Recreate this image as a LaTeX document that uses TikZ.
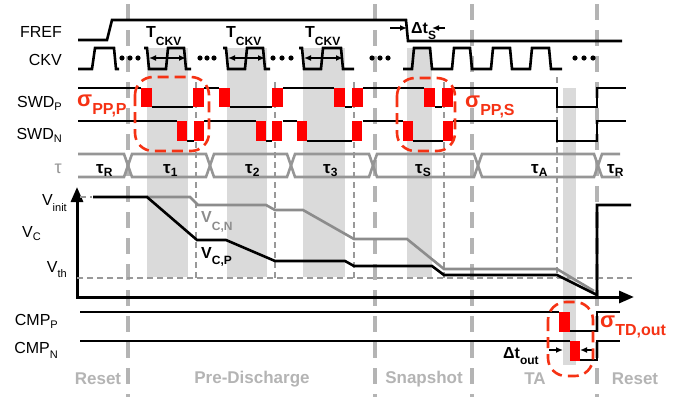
\documentclass[tikz,border=0pt]{standalone}
\usepackage{fontspec}
\setmainfont{Liberation Sans}
\usetikzlibrary{arrows.meta,calc}

\definecolor{redbar}{RGB}{255,0,0}
\definecolor{redgrp}{RGB}{245,50,20}
\definecolor{phasegray}{RGB}{180,180,180}
\definecolor{shadegray}{RGB}{218,218,218}
\definecolor{busgray}{RGB}{150,150,150}
\definecolor{vcngray}{RGB}{140,140,140}

\newcommand{\low}[2]{\raisebox{-#1}{\fontsize{11}{11}\selectfont #2}}
\newcommand{\lowb}[2]{\raisebox{-#1}{\fontsize{12}{12}\selectfont #2}}
\newcommand{\sigl}[1]{{\fontsize{22}{22}\selectfont σ}\raisebox{-8pt}{\fontsize{16}{16}\selectfont #1}}

\tikzset{
  wave/.style={line width=2.6pt},
  phaseline/.style={phasegray, line width=4pt, dash pattern=on 16pt off 10pt},
  guide/.style={phasegray!85!black, line width=1.5pt, dash pattern=on 6pt off 4pt},
  bus/.style={busgray, line width=2.6pt},
  bar/.style={fill=redbar},
  grp/.style={redgrp, line width=2.6pt, dash pattern=on 11pt off 6pt, rounded corners=18pt},
  shd/.style={fill=shadegray},
  lbl/.style={inner sep=0pt, font=\fontsize{16}{16}\selectfont},
  blbl/.style={inner sep=0pt, font=\fontsize{16}{16}\selectfont\bfseries},
  plbl/.style={inner sep=0pt, text=phasegray, font=\fontsize{17}{17}\selectfont\bfseries},
  taulbl/.style={inner sep=0pt, font=\fontsize{17}{17}\selectfont\bfseries},
  siglbl/.style={inner sep=0pt, text=redgrp, font=\bfseries},
  tip/.style={line width=1.4pt, -{Latex[length=7pt,width=6pt]}},
  axis/.style={line width=3pt, {Triangle[length=15pt,width=12pt]}-{Triangle[length=15pt,width=12pt]}},
}

\begin{document}
\begin{tikzpicture}[x=1pt,y=-1pt]
\useasboundingbox (0,0) rectangle (694,397);

\foreach \a/\b in {147/188,227/267,303/345,407/432}
  \fill[shd] (\a,48) rectangle (\b,277);
\fill[shd] (563,88) rectangle (576,365);

\foreach \x in {128,375,472,597}
  \draw[phaseline] (\x,4) -- (\x,397);
\foreach \x in {196,275,354,444}
  \draw[guide] (\x,82) -- (\x,278);
\draw[guide] (557,77) -- (557,278);

% clocks
\draw[wave] (78,40) -- (107,40) -- (112,20) -- (406,20) -- (408,41) -- (622,41);
\draw[wave] (78,69) -- (92,69) -- (95,48) -- (114,48) -- (116,69) -- (119,69);
\draw[wave] (144,48) -- (147,48) -- (149,69) -- (166,69) -- (168,48) -- (184,48) -- (186,69) -- (191,69);
\draw[wave] (223,48) -- (226,48) -- (228,69) -- (245,69) -- (247,48) -- (263,48) -- (265,69) -- (270,69);
\draw[wave] (299,48) -- (302,48) -- (304,69) -- (321,69) -- (323,48) -- (341,48) -- (343,69) -- (354,69);
\draw[wave] (403,69) -- (412,69) -- (414,48) -- (430,48) -- (432,69) -- (452,69) -- (454,48) -- (470,48) -- (472,69)
  -- (491,69) -- (493,48) -- (510,48) -- (512,69) -- (530,69) -- (532,48) -- (549,48) -- (551,69) -- (562,69);
\foreach \x in {122,130,138,200,207,214,273,282,291,372,380,388,575,584,593}
  \fill (\x,58) circle (2.6pt);

\foreach \a/\b in {149/186,228/265,304/343}
  \draw[line width=1.4pt, {Latex[length=7pt,width=6pt]}-{Latex[length=7pt,width=6pt]}] (\a,58) -- (\b,58);
\node[blbl, anchor=base west] (tckv1) at (146,37) {T\lowb{8pt}{CKV}};
\node[blbl, anchor=base west] (tckv2) at (226,37) {T\lowb{8pt}{CKV}};
\node[blbl, anchor=base west] (tckv3) at (305,37) {T\lowb{8pt}{CKV}};

\draw[tip] (390,28) -- (407,28);
\draw[tip] (445,28) -- (432,28);
\node[blbl, anchor=base west] (dts) at (411,33) {Δt\lowb{6pt}{S}};

% switch drivers
\draw[wave] (78,88) -- (141,88) (152,107) -- (193,107) (204,88) -- (219,88) (230,107) -- (272,107)
  (283,88) -- (334,88) (345,107) -- (352,107) (363,88) -- (424,88) (435,107) -- (442,107)
  (452,88) -- (557,88) -- (557,107) -- (597,107) -- (597,88) -- (626,88);
\draw[wave] (78,121) -- (177,121) (187,141) -- (194,141) (204,121) -- (256,121) (266,141) -- (272,141)
  (283,121) -- (297,121) (307,141) -- (352,141) (363,121) -- (403,121) (413,141) -- (443,141)
  (453,121) -- (557,121) -- (557,141) -- (597,141) -- (597,121) -- (626,121);
\foreach \x in {141,193,219,272,334,352,424,442}
  \fill[bar] (\x,88) rectangle ++(11,19);
\foreach \x in {177,194,256,272,297,352,403,443}
  \fill[bar] (\x,121) rectangle ++(10,20);

% tau bus
\draw[bus] (78,154) -- (124,154) -- (128,165.5) -- (124,177) -- (78,177);
\foreach \a/\b in {128/210,210/291,291/373,373/478,478/598}
  \draw[bus] (\a,165.5) -- (\a+4,154) -- (\b-4,154) -- (\b,165.5) -- (\b-4,177) -- (\a+4,177) -- cycle;
\draw[bus] (620,154) -- (602,154) -- (598,165.5) -- (602,177) -- (620,177);
\node[taulbl, anchor=base west] (tr1) at (96,173) {τ\lowb{3pt}{R}};
\node[taulbl, anchor=base west] (t1) at (163,173) {τ\lowb{3pt}{1}};
\node[taulbl, anchor=base west] (t2) at (245,173) {τ\lowb{3pt}{2}};
\node[taulbl, anchor=base west] (t3) at (323,173) {τ\lowb{3pt}{3}};
\node[taulbl, anchor=base west] (ts) at (415,173) {τ\lowb{3pt}{S}};
\node[taulbl, anchor=base west] (ta) at (531,173) {τ\lowb{3pt}{A}};
\node[taulbl, anchor=base west] (tr2) at (607,173) {τ\lowb{3pt}{R}};

% capacitor voltage
\draw[axis] (77,187) -- (77,297) -- (634,297);
\draw[guide] (77,278) -- (632,278);
\draw[guide] (80,197) -- (92,197);
\draw[wave, vcngray] (147,197) -- (190,197) -- (198,205) -- (266,205) -- (275,210) -- (303,210) -- (354,239)
  -- (407,239) -- (444,269) -- (557,269) -- (594,291);
\draw[wave] (93,197) -- (147,197) -- (197,240) -- (226,240) -- (275,261) -- (345,261) -- (354,266) -- (432,266)
  -- (444,275) -- (557,275) -- (597,295) -- (597,205) -- (631,205);
\node[blbl, text=vcngray, anchor=base west] (vcn) at (201,222) {V\lowb{8pt}{C,N}};
\node[blbl, anchor=base west] (vcp) at (201,258) {V\lowb{6pt}{C,P}};

% comparator outputs
\draw[wave] (80,312) -- (559,312) (570,331) -- (597,331) -- (597,312) -- (620,312);
\draw[wave] (80,341) -- (570,341) (580,360) -- (597,360) -- (597,341) -- (620,341);
\fill[bar] (559,312) rectangle (570,332);
\fill[bar] (570,341) rectangle (580,361);
\draw[tip] (549,350) -- (563,350);
\draw[tip] (592,350) -- (580,350);
\node[blbl, anchor=base west] (dtout) at (503,358) {Δt\lowb{6pt}{out}};

% mismatch groups
\draw[grp] (135,77) rectangle (209,151);
\draw[grp] (397,78) rectangle (455,151);
\draw[grp] (548,302) rectangle (593,376);
\node[siglbl, anchor=base west] (sppp) at (77,106) {\sigl{PP,P}};
\node[siglbl, anchor=base west] (spps) at (465,107) {\sigl{PP,S}};
\node[siglbl, anchor=base west] (stdo) at (600,327) {\sigl{TD,out}};

% row labels
\node[lbl, anchor=base east] (fref) at (62,37) {FREF};
\node[lbl, anchor=base east] (ckv) at (62,65) {CKV};
\node[lbl, anchor=base east] (swdp) at (62,107) {SWD\low{3pt}{P}};
\node[lbl, anchor=base east] (swdn) at (62,139) {SWD\low{3pt}{N}};
\node[lbl, text=busgray, anchor=base east, font=\fontsize{18}{18}\selectfont] (tau) at (62,173) {τ};
\node[lbl, anchor=base east] (vinit) at (67,205) {V\low{6pt}{init}};
\node[lbl, anchor=base east] (vc) at (41,237) {V\low{3pt}{C}};
\node[lbl, anchor=base east] (vth) at (67,272) {V\low{5pt}{th}};
\node[lbl, anchor=base east] (cmpp) at (58,325) {CMP\low{3pt}{P}};
\node[lbl, anchor=base east] (cmpn) at (58,353) {CMP\low{5pt}{N}};

% phases
\node[plbl] (reset1) at (98,379) {Reset};
\node[plbl] (predis) at (252,379) {Pre-Discharge};
\node[plbl] (snap) at (424,379) {Snapshot};
\node[plbl] (tapha) at (535,379) {TA};
\node[plbl] (reset2) at (635,379) {Reset};

\end{tikzpicture}
\end{document}
